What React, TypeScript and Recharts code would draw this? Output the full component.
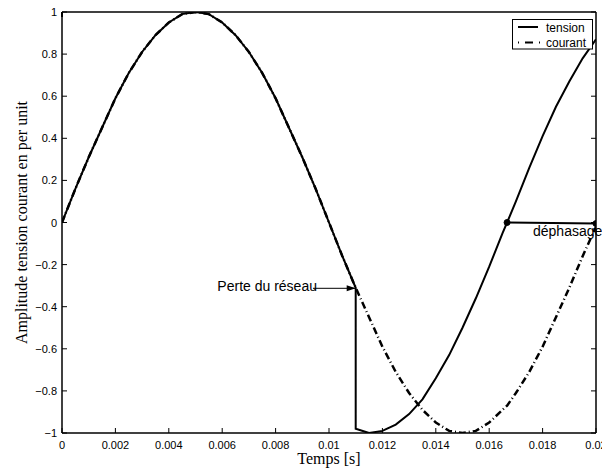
import React from 'react';
import { LineChart, Line, XAxis, YAxis, ReferenceLine, ReferenceDot, Legend, Label } from 'recharts';

// Time samples [s]
const time = [
  0, 0.0005, 0.001, 0.0015, 0.002, 0.0025, 0.003, 0.0035, 0.004, 0.0045, 0.005,
  0.0055, 0.006, 0.0065, 0.007, 0.0075, 0.008, 0.0085, 0.009, 0.0095, 0.01, 0.0105,
  0.011, 0.011, 0.0115, 0.012, 0.0125, 0.013, 0.0135, 0.014, 0.0145, 0.015, 0.0155,
  0.016, 0.0165, 0.01667, 0.017, 0.0175, 0.018, 0.0185, 0.019, 0.0195, 0.02,
];

// Tension (per unit)
const tension = [
  0, 0.16, 0.31, 0.45, 0.59, 0.71, 0.81, 0.89, 0.95, 0.99, 1.0,
  0.99, 0.95, 0.89, 0.81, 0.71, 0.59, 0.45, 0.31, 0.16, 0, -0.16,
  -0.31, -0.98, -1.0, -0.99, -0.96, -0.91, -0.84, -0.74, -0.63, -0.5, -0.36,
  -0.21, -0.05, 0, 0.1, 0.26, 0.41, 0.55, 0.67, 0.78, 0.87,
];

// Courant (per unit)
const courant = [
  0, 0.16, 0.31, 0.45, 0.59, 0.71, 0.81, 0.89, 0.95, 0.99, 1.0,
  0.99, 0.95, 0.89, 0.81, 0.71, 0.59, 0.45, 0.31, 0.16, 0, -0.16,
  -0.31, -0.31, -0.45, -0.59, -0.71, -0.81, -0.89, -0.95, -0.99, -1.0, -0.99,
  -0.95, -0.89, -0.87, -0.81, -0.71, -0.59, -0.45, -0.31, -0.16, -0.02,
];

// Déphasage segment (only two points)
const dephasage: (number | null)[] = [
  null, null, null, null, null, null, null, null, null, null, null,
  null, null, null, null, null, null, null, null, null, null, null,
  null, null, null, null, null, null, null, null, null, null, null,
  null, null, 0, null, null, null, null, null, null, -0.005,
];

const xTicks = [0, 0.002, 0.004, 0.006, 0.008, 0.01, 0.012, 0.014, 0.016, 0.018, 0.02];
const xTickLabels = ['0', '0.002', '0.004', '0.006', '0.008', '0.01', '0.012', '0.014', '0.016', '0.018', '0.02'];
const yTicks = [-1, -0.8, -0.6, -0.4, -0.2, 0, 0.2, 0.4, 0.6, 0.8, 1];
const yTickLabels = ['\u22121', '\u22120.8', '\u22120.6', '\u22120.4', '\u22120.2', '0', '0.2', '0.4', '0.6', '0.8', '1'];

const xTitle = 'Temps [s]';
const yTitle = 'Amplitude tension courant en per unit';
const seriesNames = ['tension', 'courant'];

// Annotations (data coordinates)
const perteText = 'Perte du réseau';
const perteTextPos = { x: 0.00955, y: -0.325 };
const perteArrowFrom = { x: 0.0094, y: -0.3126 };
const perteArrowTo = { x: 0.011, y: -0.3126 };
const dephText = 'déphasage';
const dephTextPos = { x: 0.01764, y: -0.064 };

const data = time.map((t, i) => ({
  t,
  tension: tension[i],
  courant: courant[i],
  dephasage: dephasage[i],
}));

const SANS = '"Liberation Sans", Arial, Helvetica, sans-serif';
const SERIF = '"Liberation Serif", "Times New Roman", serif';
const TICK = 5;

const BottomTick = (p: any) => {
  const i = xTicks.indexOf(p.payload.value);
  return (
    <g>
      <line x1={p.x} y1={p.y} x2={p.x} y2={p.y - TICK} stroke="#000" strokeWidth={1} />
      <text x={p.x} y={p.y + 16} textAnchor="middle" fontFamily={SANS} fontSize={11} fill="#000">
        {xTickLabels[i]}
      </text>
    </g>
  );
};
const TopTick = (p: any) => (
  <line x1={p.x} y1={p.y} x2={p.x} y2={p.y + TICK} stroke="#000" strokeWidth={1} />
);
const LeftTick = (p: any) => {
  const i = yTicks.indexOf(p.payload.value);
  return (
    <g>
      <line x1={p.x} y1={p.y} x2={p.x + TICK} y2={p.y} stroke="#000" strokeWidth={1} />
      <text x={p.x - 5} y={p.y + 4} textAnchor="end" fontFamily={SANS} fontSize={11} fill="#000">
        {yTickLabels[i]}
      </text>
    </g>
  );
};
const RightTick = (p: any) => (
  <line x1={p.x} y1={p.y} x2={p.x - TICK} y2={p.y} stroke="#000" strokeWidth={1} />
);

const LegendBox = () => (
  <svg width={82} height={31} style={{ display: 'block' }}>
    <rect x={0.5} y={0.5} width={80} height={29.5} fill="#fff" stroke="#000" strokeWidth={1} />
    <line x1={6} y1={8} x2={26} y2={8} stroke="#000" strokeWidth={2} />
    <text x={34} y={12.5} fontFamily={SANS} fontSize={12} fill="#000">{seriesNames[0]}</text>
    <line x1={6} y1={23.5} x2={28} y2={23.5} stroke="#000" strokeWidth={2} strokeDasharray="1 6 8 6 1" />
    <text x={34} y={27.5} fontFamily={SANS} fontSize={12} fill="#000">{seriesNames[1]}</text>
  </svg>
);

export default function App() {
  return (
    <div style={{ position: 'absolute', left: 0, top: 0 }}>
      <LineChart width={602} height={469} data={data} margin={{ top: 11, right: 5, bottom: 0, left: 0 }}>
        <XAxis
          dataKey="t"
          type="number"
          domain={[0, 0.02]}
          ticks={xTicks}
          allowDataOverflow
          height={36}
          tickSize={0}
          tickMargin={0}
          tickLine={false}
          stroke="#000"
          strokeWidth={1.5}
          tick={<BottomTick />}
          interval={0}
        >
          <Label
            content={(props: any) => {
              const vb = props.viewBox || { x: 62, y: 433, width: 534, height: 36 };
              return (
                <text x={vb.x + vb.width / 2} y={vb.y + 31} textAnchor="middle" fontFamily={SERIF} fontSize={16} fill="#000">
                  {xTitle}
                </text>
              );
            }}
          />
        </XAxis>
        <XAxis
          xAxisId="top"
          orientation="top"
          type="number"
          domain={[0, 0.02]}
          ticks={xTicks}
          allowDataOverflow
          height={1}
          tickSize={0}
          tickMargin={0}
          tickLine={false}
          stroke="#000"
          strokeWidth={1.5}
          tick={<TopTick />}
          interval={0}
        />
        <YAxis
          type="number"
          domain={[-1, 1]}
          ticks={yTicks}
          allowDataOverflow
          width={62}
          tickSize={0}
          tickMargin={0}
          tickLine={false}
          stroke="#000"
          strokeWidth={1.5}
          tick={<LeftTick />}
          interval={0}
        >
          <Label
            content={(props: any) => {
              const vb = props.viewBox || { x: 0, y: 12, width: 62, height: 421 };
              const cx = 26.5;
              const cy = vb.y + vb.height / 2;
              return (
                <text x={cx} y={cy} transform={`rotate(-90, ${cx}, ${cy})`} textAnchor="middle" fontFamily={SERIF} fontSize={16} fill="#000">
                  {yTitle}
                </text>
              );
            }}
          />
        </YAxis>
        <YAxis
          yAxisId="right"
          orientation="right"
          type="number"
          domain={[-1, 1]}
          ticks={yTicks}
          allowDataOverflow
          width={1}
          tickSize={0}
          tickMargin={0}
          tickLine={false}
          stroke="#000"
          strokeWidth={1.5}
          tick={<RightTick />}
          interval={0}
        />
        <Legend
          layout="horizontal"
          align="center"
          verticalAlign="middle"
          content={() => <LegendBox />}
          wrapperStyle={{ position: 'absolute', left: 512, top: 19, width: 82, height: 31 }}
        />
        <Line
          dataKey="courant"
          type="linear"
          stroke="#000"
          strokeWidth={2.5}
          strokeDasharray="7 3 1 3"
          dot={false}
          isAnimationActive={false}
        />
        <Line
          dataKey="tension"
          type="linear"
          stroke="#000"
          strokeWidth={2}
          dot={false}
          isAnimationActive={false}
        />
        <Line
          dataKey="dephasage"
          type="linear"
          stroke="#000"
          strokeWidth={2}
          connectNulls
          dot={{ r: 3, fill: '#000', stroke: '#000', strokeWidth: 1 }}
          legendType="none"
          isAnimationActive={false}
        />
        <ReferenceLine
          segment={[perteArrowFrom, perteArrowTo]}
          stroke="#000"
          strokeWidth={1}
          ifOverflow="visible"
        />
        <ReferenceDot
          x={perteArrowTo.x}
          y={perteArrowTo.y}
          ifOverflow="visible"
          shape={(p: any) => (
            <polygon points={`${p.cx},${p.cy} ${p.cx - 9},${p.cy - 3} ${p.cx - 9},${p.cy + 3}`} fill="#000" />
          )}
        />
        <ReferenceDot
          x={perteTextPos.x}
          y={perteTextPos.y}
          ifOverflow="visible"
          shape={(p: any) => (
            <text x={p.cx} y={p.cy} textAnchor="end" fontFamily={SANS} fontSize={14} fill="#000">{perteText}</text>
          )}
        />
        <ReferenceDot
          x={dephTextPos.x}
          y={dephTextPos.y}
          ifOverflow="visible"
          shape={(p: any) => (
            <text x={p.cx} y={p.cy} textAnchor="start" fontFamily={SANS} fontSize={14} fill="#000">{dephText}</text>
          )}
        />
      </LineChart>
    </div>
  );
}
